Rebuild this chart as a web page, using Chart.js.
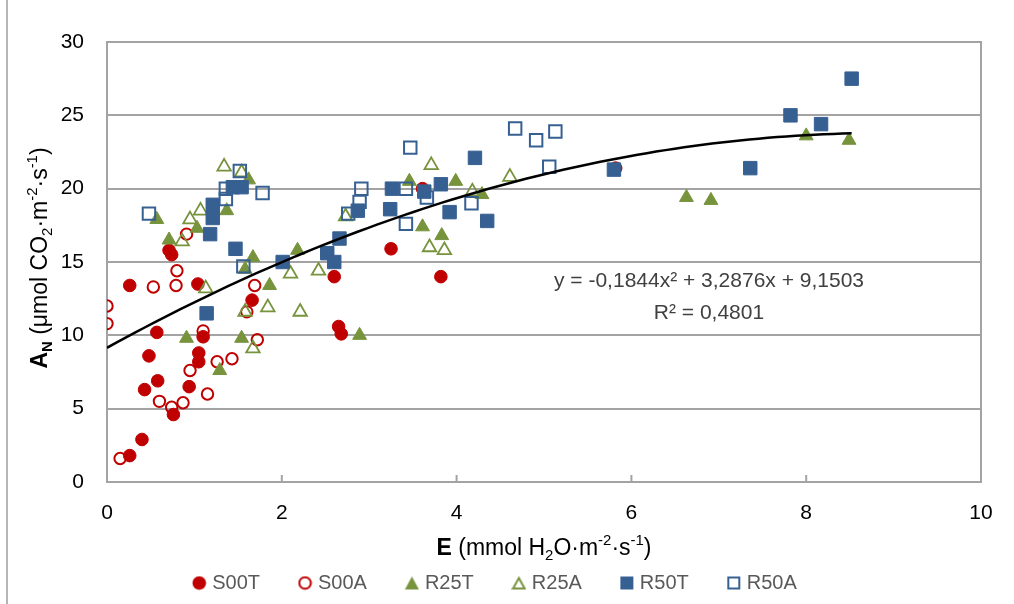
<!DOCTYPE html>
<html><head><meta charset="utf-8">
<script src="https://cdn.jsdelivr.net/npm/chart.js@4.4.1/dist/chart.umd.min.js"></script>
<style>html,body{margin:0;padding:0;background:#fff;}#wrap{width:1014px;height:604px;}</style>
</head><body><div id="wrap"><canvas id="c" width="1014" height="604"></canvas></div>
<script>
// ---------- data ----------
const seriesNames = ["S00T", "S00A", "R25T", "R25A", "R50T", "R50A"];

const s00tE = [0.26,0.57,0.48,0.58,0.43,0.76,0.40,0.26,1.10,1.05,1.05,0.94,1.66,0.71,0.74,1.04,2.60,2.65,2.68,3.25,3.82,3.61,5.82];
const s00tA = [13.4,10.2,8.6,6.9,6.3,4.6,2.9,1.8,9.9,8.8,8.2,6.5,12.4,15.8,15.5,13.5,14.0,10.6,10.1,15.9,14.0,20.0,21.4];

const s00aE = [0.00,0.00,0.15,0.60,0.74,0.87,1.15,0.95,1.26,1.43,1.10,1.72,1.60,1.69,0.53,0.79,0.80,0.91];
const s00aA = [12.0,10.8,1.6,5.5,5.1,5.4,6.0,7.6,8.2,8.4,10.3,9.7,11.6,13.4,13.3,13.4,14.4,16.9];

const r25tE = [0.57,0.71,1.03,1.37,1.62,1.67,1.58,1.86,2.18,0.91,1.54,1.29,2.89,3.46,3.61,3.83,3.99,4.29,6.63,6.91,8.00,8.49];
const r25tA = [17.9,16.5,17.3,18.5,20.6,15.3,14.5,13.4,15.8,9.8,9.8,7.6,10.0,20.5,17.4,16.8,20.5,19.6,19.4,19.2,23.6,23.3];

const r25aE = [1.34,1.54,1.07,0.95,0.86,1.13,1.58,1.84,2.21,2.10,1.67,2.42,2.73,3.69,3.86,3.71,4.18,4.61];
const r25aA = [21.5,21.1,18.5,17.9,16.4,13.2,11.6,11.9,11.6,14.2,9.1,14.4,18.1,16.0,15.8,21.6,19.8,20.8];

const r50tE = [1.21,1.21,1.18,1.47,1.44,1.54,2.01,1.14,2.66,2.52,2.60,2.87,3.24,3.26,3.63,3.82,3.92,4.21,4.35,5.80,7.36,7.82,8.17,8.52];
const r50tA = [18.9,18.0,16.9,15.9,20.1,20.1,15.0,11.5,16.6,15.6,15.0,18.5,18.6,20.0,19.8,20.3,18.4,22.1,17.8,21.3,21.4,25.0,24.4,27.5];

const r50aE = [0.48,1.52,1.36,1.36,1.78,1.56,3.47,2.91,2.89,2.76,3.42,3.66,4.17,3.42,4.67,4.91,5.13,5.06];
const r50aA = [18.3,21.2,20.0,19.3,19.7,14.7,22.8,20.0,19.1,18.3,17.6,19.4,19.0,20.0,24.1,23.3,23.9,21.5];

// polynomial trendline (from the printed equation): c0 + c1*x + c2*x^2
const trendCoef = [9.1503, 3.2876, -0.1844];
const trendRange = [0, 8.52];
const equationLines = ["y = -0,1844x² + 3,2876x + 9,1503", "R² = 0,4801"];

const xTicks = [0, 2, 4, 6, 8, 10];
const yTicks = [0, 5, 10, 15, 20, 25, 30];

// ---------- styling ----------
const FONT = "'Liberation Sans', Arial, sans-serif";
const RED = '#C00000', GREEN = '#77933C', BLUE = '#376092';
const GRID = '#a3a3a3';

function pts(xs, ys) { return xs.map((x, i) => ({ x: x, y: ys[i] })); }

const trendPts = [];
for (let i = 0; i <= 80; i++) {
  const x = trendRange[0] + (trendRange[1] - trendRange[0]) * i / 80;
  trendPts.push({ x: x, y: trendCoef[0] + trendCoef[1] * x + trendCoef[2] * x * x });
}

function makeIcon(shape, filled, color) {
  const c = document.createElement('canvas'); c.width = 15; c.height = 15;
  const g = c.getContext('2d');
  g.fillStyle = color; g.strokeStyle = color; g.lineWidth = 2;
  const m = 7.5;
  g.beginPath();
  if (shape === 'circle') g.arc(m, m, filled ? 6.8 : 5.8, 0, 2 * Math.PI);
  else if (shape === 'rect') { if (filled) g.rect(1, 1, 13, 13); else g.rect(2, 2, 11, 11); }
  else { if (filled) { g.moveTo(m, 1); g.lineTo(14.5, 14); g.lineTo(0.5, 14); } else { g.moveTo(m, 2.5); g.lineTo(13.3, 13); g.lineTo(1.7, 13); } g.closePath(); }
  if (filled) g.fill(); else g.stroke();
  return c;
}
const icons = [
  makeIcon('circle', true, RED), makeIcon('circle', false, RED),
  makeIcon('triangle', true, GREEN), makeIcon('triangle', false, GREEN),
  makeIcon('rect', true, BLUE), makeIcon('rect', false, BLUE)
];

function drawRich(ctx, segs, size, cx, cy, rotate) {
  // measure
  const parts = segs.map(s => {
    const sz = (s.sub || s.sup) ? size * 0.65 : size;
    const f = (s.bold ? 'bold ' : '') + sz + 'px ' + FONT;
    ctx.font = f;
    return { t: s.t, f: f, w: ctx.measureText(s.t).width, dy: s.sub ? size * 0.28 : (s.sup ? -size * 0.36 : 0) };
  });
  const total = parts.reduce((a, p) => a + p.w, 0);
  ctx.save();
  ctx.translate(cx, cy);
  if (rotate) ctx.rotate(-Math.PI / 2);
  ctx.textBaseline = 'middle'; ctx.textAlign = 'left'; ctx.fillStyle = '#000';
  let x = -total / 2;
  parts.forEach(p => { ctx.font = p.f; ctx.fillText(p.t, x, p.dy); x += p.w; });
  ctx.restore();
}

const decor = {
  id: 'decor',
  beforeDatasetsDraw(chart) {
    const { ctx, chartArea: a } = chart;
    ctx.save();
    ctx.strokeStyle = GRID; ctx.lineWidth = 2;
    ctx.strokeRect(a.left, a.top, a.right - a.left, a.bottom - a.top);
    // inward x tick marks
    const xs = chart.scales.x;
    xTicks.forEach(v => {
      const px = xs.getPixelForValue(v);
      ctx.beginPath(); ctx.moveTo(px, a.bottom); ctx.lineTo(px, a.bottom - 7); ctx.stroke();
    });
    // outer chart frame (left edge visible)
    ctx.strokeStyle = '#b5b5b5'; ctx.lineWidth = 2;
    ctx.beginPath(); ctx.moveTo(7, 0); ctx.lineTo(7, 604); ctx.stroke();
    ctx.restore();
  },
  afterDraw(chart) {
    const { ctx, chartArea: a } = chart;
    drawRich(ctx, [
      { t: 'E', bold: true }, { t: ' (mmol H' }, { t: '2', sub: true }, { t: 'O·m' },
      { t: '-2', sup: true }, { t: '·s' }, { t: '-1', sup: true }, { t: ')' }
    ], 23, (a.left + a.right) / 2, 549, false);
    drawRich(ctx, [
      { t: 'A', bold: true }, { t: 'N', bold: true, sub: true }, { t: ' (μmol CO' }, { t: '2', sub: true },
      { t: '·m' }, { t: '-2', sup: true }, { t: '·s' }, { t: '-1', sup: true }, { t: ')' }
    ], 23, 41, 258, true);
    ctx.save();
    ctx.font = '21px ' + FONT; ctx.fillStyle = '#404040';
    ctx.textAlign = 'center'; ctx.textBaseline = 'middle';
    ctx.fillText(equationLines[0], 709, 281);
    ctx.fillText(equationLines[1], 709, 313);
    ctx.restore();
  }
};

const datasets = [
  { label: seriesNames[0], data: pts(s00tE, s00tA), pointStyle: 'circle', pointRadius: 6.3, backgroundColor: RED, borderColor: RED, borderWidth: 1, order: 6 },
  { label: seriesNames[1], data: pts(s00aE, s00aA), pointStyle: 'circle', pointRadius: 5.7, backgroundColor: 'rgba(255,255,255,0)', borderColor: RED, borderWidth: 2, order: 5 },
  { label: seriesNames[2], data: pts(r25tE, r25tA), pointStyle: 'triangle', pointRadius: 8, backgroundColor: GREEN, borderColor: GREEN, borderWidth: 1, order: 4 },
  { label: seriesNames[3], data: pts(r25aE, r25aA), pointStyle: 'triangle', pointRadius: 7.8, backgroundColor: 'rgba(255,255,255,0)', borderColor: GREEN, borderWidth: 1.8, order: 3 },
  { label: seriesNames[4], data: pts(r50tE, r50tA), pointStyle: 'rect', pointRadius: 9.5, backgroundColor: BLUE, borderColor: BLUE, borderWidth: 1, order: 2 },
  { label: seriesNames[5], data: pts(r50aE, r50aA), pointStyle: 'rect', pointRadius: 8.8, backgroundColor: 'rgba(255,255,255,0)', borderColor: BLUE, borderWidth: 2, order: 1 },
  { type: 'line', label: '', data: trendPts, borderColor: '#000', borderWidth: 2.5, pointRadius: 0, tension: 0, fill: false, order: 0 }
];
datasets.forEach(d => { d.pointHoverRadius = d.pointRadius; });

new Chart(document.getElementById('c'), {
  type: 'scatter',
  data: { datasets: datasets },
  plugins: [decor],
  options: {
    responsive: false, animation: false, devicePixelRatio: 1, events: [],
    layout: { padding: { left: 12, right: 33, top: 42, bottom: 1 } },
    scales: {
      x: {
        type: 'linear', min: 0, max: 10,
        afterBuildTicks: s => { s.ticks = xTicks.map(v => ({ value: v })); },
        afterFit: s => { s.height = 49; },
        grid: { display: false, drawTicks: false },
        border: { display: false },
        ticks: { padding: 19, color: '#000', font: { family: FONT, size: 21 } }
      },
      y: {
        type: 'linear', min: 0, max: 30,
        afterBuildTicks: s => { s.ticks = yTicks.map(v => ({ value: v })); },
        afterFit: s => { s.width = 95; },
        grid: { color: GRID, lineWidth: 2, drawTicks: false },
        border: { display: false },
        ticks: { padding: 23, color: '#000', font: { family: FONT, size: 21 } }
      }
    },
    plugins: {
      tooltip: { enabled: false },
      legend: {
        position: 'bottom',
        labels: {
          usePointStyle: true, pointStyleWidth: 6, boxHeight: 14, padding: 42,
          color: '#595959', font: { family: FONT, size: 20 },
          generateLabels: chart => chart.data.datasets
            .map((d, i) => ({ text: d.label, pointStyle: icons[i], fillStyle: d.backgroundColor, strokeStyle: d.borderColor, lineWidth: 0, hidden: false, datasetIndex: i, fontColor: '#595959' }))
            .filter(l => l.text)
        }
      }
    }
  }
});
</script></body></html>
